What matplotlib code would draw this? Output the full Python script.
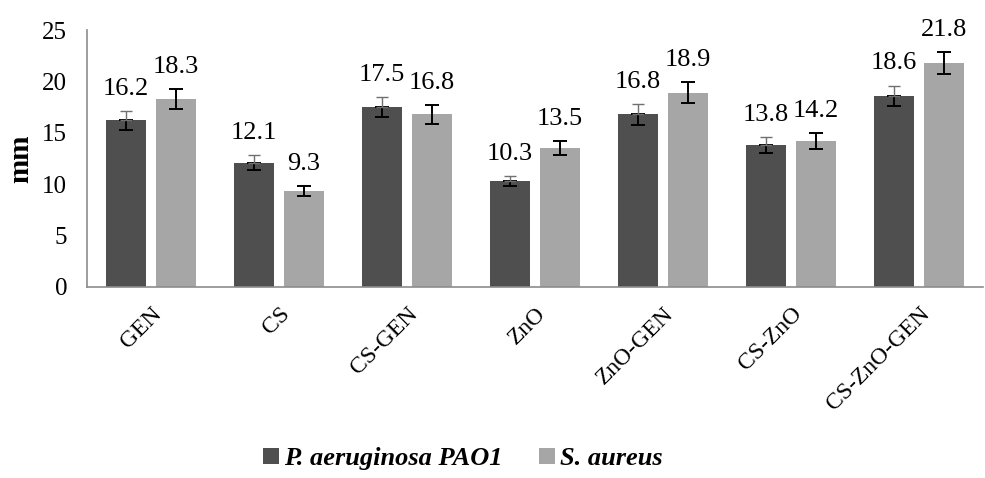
import numpy as np
import matplotlib

matplotlib.use("Agg")
import matplotlib.pyplot as plt

categories = ["GEN", "CS", "CS-GEN", "ZnO", "ZnO-GEN", "CS-ZnO", "CS-ZnO-GEN"]
series_names = ["P. aeruginosa PAO1", "S. aureus"]
pao1 = [16.2, 12.1, 17.5, 10.3, 16.8, 13.8, 18.6]
aureus = [18.3, 9.3, 16.8, 13.5, 18.9, 14.2, 21.8]
pao1_err = [0.9, 0.7, 1.0, 0.5, 1.0, 0.8, 1.0]
aureus_err = [1.0, 0.5, 0.9, 0.7, 1.0, 0.8, 1.1]

plt.rcParams["font.family"] = ["Liberation Serif", "DejaVu Serif"]

fig = plt.figure(figsize=(9.85, 4.78), dpi=100)
ax = fig.add_axes([0.088, 0.40, 0.91, 0.537])

x = np.arange(len(categories))
w = 0.31
off = 0.195
dark, light = "#4f4f4f", "#a6a6a6"

ax.bar(x - off, pao1, w, color=dark, label=series_names[0], zorder=2)
ax.bar(x + off, aureus, w, color=light, label=series_names[1], zorder=2)

# dark series: lower half black, upper half greyish (as in the original)
ax.errorbar(x - off, pao1, yerr=[pao1_err, [0] * len(pao1)], fmt="none",
            ecolor="black", elinewidth=1.4, capsize=5, capthick=1.4, zorder=3)
ax.errorbar(x - off, pao1, yerr=[[0] * len(pao1), pao1_err], fmt="none",
            ecolor="#707070", elinewidth=1.0, capsize=4, capthick=1.0, zorder=3)
ax.errorbar(x + off, aureus, yerr=aureus_err, fmt="none",
            ecolor="black", elinewidth=1.4, capsize=5, capthick=1.4, zorder=3)

for xs, vals, errs in [(x - off, pao1, pao1_err), (x + off, aureus, aureus_err)]:
    for xi, v, e in zip(xs, vals, errs):
        ax.annotate(f"{v}", (xi, v + e), xytext=(0, 8), textcoords="offset points",
                    ha="center", va="bottom", fontsize=19)

ax.set_xlim(-0.5, len(categories) - 0.5)
ax.set_ylim(0, 25)
ax.set_yticks([0, 5, 10, 15, 20, 25])
ax.set_xticks(x)
ax.set_xticklabels(categories, rotation=45, ha="right", rotation_mode="anchor",
                   fontsize=17)
ax.tick_params(axis="y", labelsize=18, length=0, pad=14)
ax.tick_params(axis="x", length=0, pad=12)
ax.set_ylabel("mm", fontsize=21, fontweight="bold", labelpad=6)

for s in ["top", "right"]:
    ax.spines[s].set_visible(False)
for s in ["left", "bottom"]:
    ax.spines[s].set_color("#8c8c8c")
    ax.spines[s].set_linewidth(1.2)

leg = fig.legend(loc="center", bbox_to_anchor=(0.47, 0.04), ncol=2, frameon=False,
                 prop={"size": 19, "weight": "bold", "style": "italic"},
                 handlelength=0.6, handleheight=0.6, handletextpad=0.2,
                 columnspacing=1.4, borderpad=0.2)

fig.savefig("out.png", dpi=100)
